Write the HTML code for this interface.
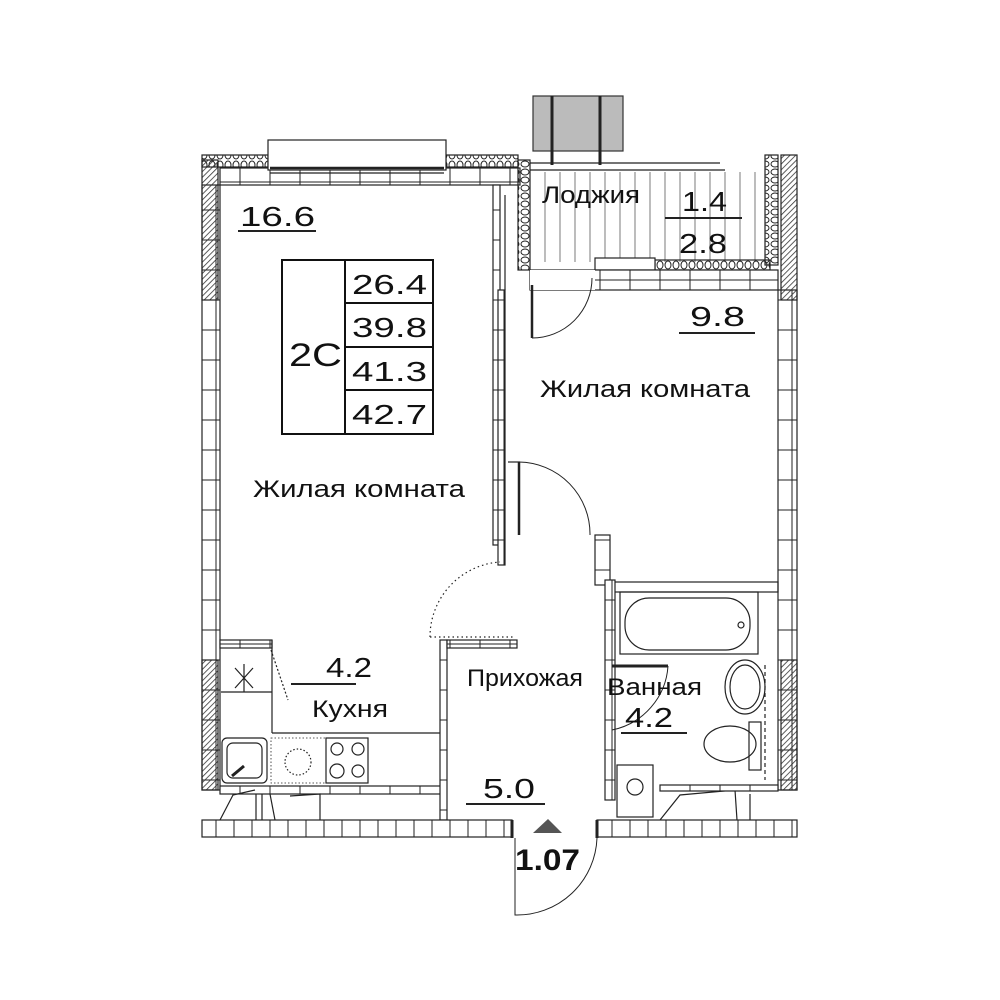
<!DOCTYPE html>
<html><head><meta charset="utf-8"><style>
body{margin:0;background:#fff}
svg{display:block}
text{font-family:"Liberation Sans",sans-serif;fill:#111}
</style></head><body>
<svg width="1000" height="1000" viewBox="0 0 1000 1000" xmlns="http://www.w3.org/2000/svg">
<defs>
<pattern id="h" width="4" height="4" patternUnits="userSpaceOnUse" patternTransform="rotate(45)"><line x1="0" y1="0" x2="0" y2="4" stroke="#333" stroke-width="1.6"/></pattern>
<pattern id="br" width="18" height="30" patternUnits="userSpaceOnUse"><rect width="18" height="30" fill="#fff" stroke="#222" stroke-width="1"/></pattern>
<pattern id="brh" width="30" height="14" patternUnits="userSpaceOnUse"><rect width="30" height="14" fill="#fff" stroke="#222" stroke-width="1"/></pattern>
<pattern id="ins" width="8" height="10" patternUnits="userSpaceOnUse"><ellipse cx="4" cy="5" rx="3" ry="4" fill="none" stroke="#222" stroke-width="1"/></pattern>
<pattern id="insv" width="10" height="8" patternUnits="userSpaceOnUse"><ellipse cx="5" cy="4" rx="4" ry="3" fill="none" stroke="#222" stroke-width="1"/></pattern>
</defs>
<g stroke="#222" stroke-width="1.2" fill="none">
<rect x="202" y="185" width="18" height="605" fill="url(#br)"/>
<rect x="202" y="160" width="16" height="140" fill="url(#h)"/>
<rect x="202" y="660" width="16" height="130" fill="url(#h)"/>
<rect x="778" y="290" width="19" height="500" fill="url(#br)"/>
<rect x="781" y="155" width="16" height="145" fill="url(#h)"/>
<rect x="781" y="660" width="16" height="130" fill="url(#h)"/>
<rect x="202" y="155" width="66" height="12" fill="url(#ins)"/>
<rect x="446" y="155" width="72" height="12" fill="url(#ins)"/>
<rect x="220" y="168" width="300" height="17" fill="url(#brh)"/>
<rect x="268" y="140" width="178" height="30" fill="#fff"/>
<line x1="270" y1="168" x2="444" y2="168" stroke-width="2.5"/>
<line x1="270" y1="173" x2="444" y2="173"/>
<rect x="493" y="185" width="7" height="360" fill="url(#br)"/>
<rect x="498" y="290" width="7" height="275" fill="url(#br)"/>
<rect x="518" y="160" width="12" height="110" fill="url(#insv)"/>
<line x1="505" y1="195" x2="505" y2="290"/>
<line x1="508" y1="462" x2="520" y2="462"/>
<line x1="519" y1="462" x2="519" y2="535" stroke-width="2.5"/>
<rect x="533" y="96" width="90" height="55" fill="#bbb" stroke="#333"/>
<line x1="552" y1="96" x2="552" y2="165" stroke-width="3"/>
<line x1="600" y1="96" x2="600" y2="165" stroke-width="3"/>
<line x1="530" y1="163" x2="720" y2="163"/>
<line x1="530" y1="170" x2="725" y2="170"/>
<g stroke-width="0.6"><line x1="545" y1="172" x2="545" y2="262"/><line x1="560" y1="172" x2="560" y2="262"/><line x1="575" y1="172" x2="575" y2="262"/><line x1="590" y1="172" x2="590" y2="262"/><line x1="605" y1="172" x2="605" y2="262"/><line x1="620" y1="172" x2="620" y2="262"/><line x1="635" y1="172" x2="635" y2="262"/><line x1="650" y1="172" x2="650" y2="262"/><line x1="665" y1="172" x2="665" y2="262"/><line x1="680" y1="172" x2="680" y2="262"/><line x1="695" y1="172" x2="695" y2="262"/><line x1="710" y1="172" x2="710" y2="262"/><line x1="725" y1="172" x2="725" y2="262"/><line x1="740" y1="172" x2="740" y2="262"/><line x1="755" y1="172" x2="755" y2="262"/></g>
<rect x="765" y="155" width="13" height="110" fill="url(#insv)"/>
<rect x="655" y="260" width="115" height="10" fill="url(#ins)"/>
<rect x="595" y="258" width="60" height="12" fill="#fff"/>
<line x1="597" y1="272" x2="655" y2="272" stroke-width="3"/>
<rect x="530" y="270" width="248" height="20" fill="url(#brh)"/>
<rect x="530" y="270" width="65" height="20" fill="#fff" stroke="none"/>
<path d="M532 338 A60 60 0 0 0 592 278" stroke-width="1"/>
<line x1="532" y1="285" x2="532" y2="338" stroke-width="2.5"/>
<path d="M519 462 A72 72 0 0 1 590 535" stroke-width="1"/>
<rect x="595" y="535" width="15" height="50" fill="url(#br)"/>
<rect x="610" y="582" width="168" height="10"/>
<rect x="605" y="580" width="10" height="220" fill="url(#br)"/>
<rect x="620" y="592" width="138" height="62"/>
<rect x="625" y="598" width="125" height="52" rx="24"/>
<circle cx="741" cy="625" r="3"/>
<line x1="612" y1="666" x2="668" y2="666" stroke-width="3"/>
<path d="M668 666 A70 70 0 0 1 612 730" stroke-width="1"/>
<ellipse cx="745" cy="687" rx="20" ry="27"/>
<ellipse cx="745" cy="687" rx="15" ry="22"/>
<line x1="765" y1="665" x2="765" y2="780" stroke-dasharray="4 3"/>
<rect x="749" y="722" width="12" height="48"/>
<ellipse cx="730" cy="744" rx="26" ry="18"/>
<rect x="617" y="765" width="36" height="52"/>
<circle cx="635" cy="787" r="8"/>
<rect x="220" y="640" width="52" height="8" fill="url(#brh)"/>
<line x1="272" y1="640" x2="272" y2="733"/>
<line x1="272" y1="733" x2="446" y2="733"/>
<path d="M271 650 L288 700" stroke-dasharray="2 2"/>
<line x1="221" y1="692" x2="272" y2="692"/>
<path d="M235 668 L253 688 M253 668 L235 688 M244 664 L244 692"/>
<rect x="222" y="738" width="45" height="45" rx="5"/>
<rect x="227" y="743" width="35" height="35" rx="6"/>
<line x1="232" y1="776" x2="244" y2="766" stroke-width="3"/>
<circle cx="298" cy="762" r="13" stroke-dasharray="1.5 2"/>
<rect x="271" y="738" width="55" height="45" stroke-dasharray="1.5 2" stroke-width="0.8"/>
<rect x="326" y="738" width="42" height="45"/>
<circle cx="337" cy="749" r="6"/><circle cx="358" cy="749" r="6"/><circle cx="337" cy="771" r="7"/><circle cx="358" cy="771" r="6"/>
<rect x="220" y="786" width="226" height="8" fill="url(#brh)"/>
<path d="M220 820 L233 795 L255 790 M256 794 L256 820 M262 794 L262 820 M270 794 L275 820 M290 796 L320 794 L320 820"/>
<rect x="440" y="640" width="7" height="180" fill="url(#br)"/>
<rect x="447" y="640" width="70" height="8" fill="url(#brh)"/>
<path d="M430 637 L515 637 M430 637 A75 75 0 0 1 500 562" stroke-dasharray="1.5 3"/>
<rect x="202" y="820" width="310" height="17" fill="url(#br)"/>
<rect x="597" y="820" width="200" height="17" fill="url(#br)"/>
<line x1="512" y1="820" x2="512" y2="838" stroke-width="3"/>
<line x1="597" y1="820" x2="597" y2="838" stroke-width="3"/>
<path d="M515 838 L515 915 A80 80 0 0 0 597 838" stroke-width="1"/>
<path d="M660 820 L680 795 L735 790 L737 820 M750 794 L750 820 M760 790 L778 790"/>
<rect x="660" y="785" width="118" height="6" fill="url(#brh)"/>
<rect x="282" y="260" width="151" height="174" stroke="#111" stroke-width="2"/>
<line x1="345" y1="260" x2="345" y2="434" stroke="#111" stroke-width="2"/>
<line x1="345" y1="303" x2="433" y2="303" stroke="#111" stroke-width="2"/>
<line x1="345" y1="347" x2="433" y2="347" stroke="#111" stroke-width="2"/>
<line x1="345" y1="390" x2="433" y2="390" stroke="#111" stroke-width="2"/>
<line x1="238" y1="231" x2="316" y2="231" stroke-width="2"/>
<line x1="665" y1="218" x2="742" y2="218" stroke-width="2"/>
<line x1="679" y1="333" x2="755" y2="333" stroke-width="2"/>
<line x1="291" y1="684" x2="356" y2="684" stroke-width="2"/>
<line x1="466" y1="804" x2="545" y2="804" stroke-width="2"/>
<line x1="621" y1="733" x2="687" y2="733" stroke-width="2"/>
</g>
<polygon points="533,833 562,833 548,819" fill="#555"/>
<g font-size="28">
<text x="240" y="226" textLength="75" lengthAdjust="spacingAndGlyphs">16.6</text>
<text x="352" y="294" textLength="75" lengthAdjust="spacingAndGlyphs">26.4</text>
<text x="352" y="337" textLength="75" lengthAdjust="spacingAndGlyphs">39.8</text>
<text x="352" y="381" textLength="75" lengthAdjust="spacingAndGlyphs">41.3</text>
<text x="352" y="424" textLength="75" lengthAdjust="spacingAndGlyphs">42.7</text>
<text x="289" y="366" font-size="32" textLength="53" lengthAdjust="spacingAndGlyphs">2C</text>
<text x="682" y="211" textLength="45" lengthAdjust="spacingAndGlyphs">1.4</text>
<text x="679" y="253" textLength="48" lengthAdjust="spacingAndGlyphs">2.8</text>
<text x="690" y="326" textLength="55" lengthAdjust="spacingAndGlyphs">9.8</text>
<text x="326" y="677" textLength="46" lengthAdjust="spacingAndGlyphs">4.2</text>
<text x="483" y="798" textLength="52" lengthAdjust="spacingAndGlyphs">5.0</text>
<text x="625" y="727" textLength="48" lengthAdjust="spacingAndGlyphs">4.2</text>
</g>
<g font-size="24">
<text x="542" y="203" textLength="98" lengthAdjust="spacingAndGlyphs">Лоджия</text>
<text x="540" y="397" textLength="210" lengthAdjust="spacingAndGlyphs">Жилая комната</text>
<text x="253" y="497" textLength="212" lengthAdjust="spacingAndGlyphs">Жилая комната</text>
<text x="467" y="686" textLength="116" lengthAdjust="spacingAndGlyphs">Прихожая</text>
<text x="607" y="695" textLength="95" lengthAdjust="spacingAndGlyphs">Ванная</text>
<text x="312" y="717" textLength="76" lengthAdjust="spacingAndGlyphs">Кухня</text>
</g>
<text x="515" y="870" font-size="30" font-weight="bold" textLength="65" lengthAdjust="spacingAndGlyphs">1.07</text>
</svg>
</body></html>
